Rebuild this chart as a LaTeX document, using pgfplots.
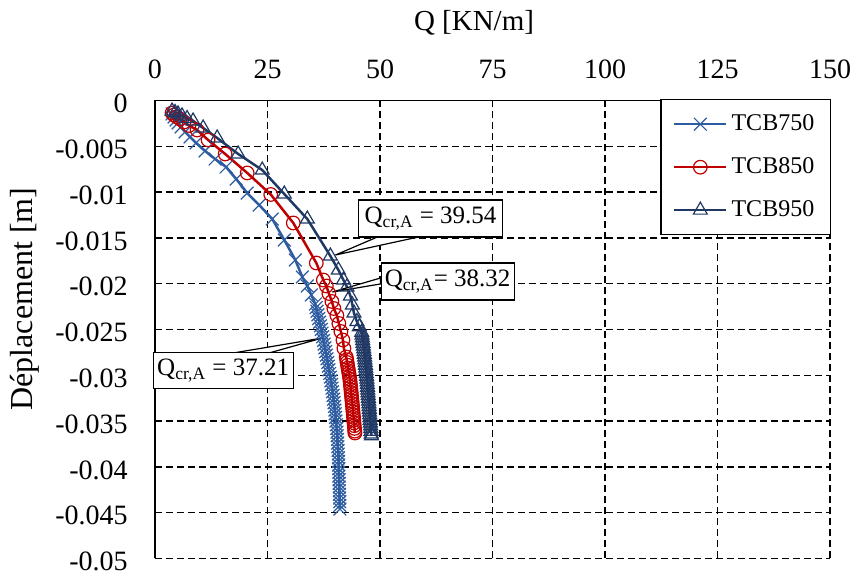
\documentclass[border=0pt]{standalone}
\usepackage{fontspec}
\setmainfont{Liberation Serif}
\usepackage{pgfplots}
\pgfplotsset{compat=1.18}
\definecolor{c750}{RGB}{46,92,160}
\definecolor{c850}{RGB}{192,0,0}
\definecolor{c950}{RGB}{31,56,100}
\begin{document}
\begin{tikzpicture}
\begin{axis}[
  scale only axis, width=337.5pt, height=229pt,
  xmin=0, xmax=150, ymin=-0.05, ymax=0,
  clip=false,
  scaled x ticks=false, scaled y ticks=false,
  axis x line*=top, axis y line*=left,
  axis line style={line width=0.75pt, black},
  xtick={0,25,50,75,100,125,150},
  xticklabels={0,25,50,75,100,125,150},
  ytick={0,-0.005,-0.01,-0.015,-0.02,-0.025,-0.03,-0.035,-0.04,-0.045,-0.05},
  yticklabels={0,-0.005,-0.01,-0.015,-0.02,-0.025,-0.03,-0.035,-0.04,-0.045,-0.05},
  tick align=inside, major tick length=2.5pt, tick style={black, line width=0.6pt},
  grid=major, grid style={black, line width=0.7pt, dash pattern=on 3.5pt off 2pt},
  xticklabel style={font=\fontsize{14}{16}\selectfont, inner sep=0pt, anchor=south, yshift=10.5pt},
  yticklabel style={font=\fontsize{14}{16}\selectfont, inner sep=0pt, anchor=east, xshift=-13.5pt, yshift=-1.5pt},
  xlabel={Q [KN/m]},
  xlabel style={font=\fontsize{14.5}{17}\selectfont, at={(axis description cs:0.4726,1)}, anchor=center, yshift=38.75pt},
  ylabel={Déplacement [m]},
  ylabel style={font=\fontsize{16}{18}\selectfont, at={(axis description cs:-0.1926,0.5666)}, anchor=center},
  legend style={at={(axis description cs:1,1)}, anchor=north east, xshift=0.5pt, yshift=0.75pt,
    draw=black, line width=0.75pt, fill=white, font=\fontsize{12}{14}\selectfont,
    inner xsep=6pt, inner ysep=5.5pt, row sep=8pt},
  legend cell align=left,
  legend image code/.code={\draw[mark repeat=2, mark phase=2] plot coordinates {(0pt,0pt) (13pt,0pt) (26pt,0pt)};},
]
\addplot[color=c750, line width=1.25pt, mark=x, mark size=4.5pt, mark options={solid, line width=0.6pt}] coordinates {
(3.79,-0.00147) (4.23,-0.00180) (4.68,-0.00213) (5.12,-0.00246) (5.79,-0.00289) (6.68,-0.00344) (7.79,-0.00398) (9.13,-0.00464) (11.14,-0.00551) (13.36,-0.00639) (15.81,-0.00726) (18.04,-0.00857) (20.49,-0.01010) (23.16,-0.01141) (26.06,-0.01294) (28.73,-0.01523) (31.18,-0.01741) (32.74,-0.01927) (33.85,-0.02025) (34.74,-0.02123) (35.63,-0.02222)
(35.81,-0.0226) (36.00,-0.0230) (36.19,-0.0234) (36.38,-0.0238) (36.57,-0.0242) (36.76,-0.0246) (36.95,-0.0250) (37.11,-0.0254) (37.28,-0.0258) (37.44,-0.0262) (37.60,-0.0266) (37.76,-0.0270) (37.93,-0.0274) (38.09,-0.0278) (38.23,-0.0282) (38.38,-0.0286) (38.53,-0.0290) (38.67,-0.0294) (38.82,-0.0298) (38.97,-0.0302) (39.11,-0.0306) (39.22,-0.0310) (39.34,-0.0314) (39.45,-0.0318) (39.56,-0.0322) (39.68,-0.0326) (39.79,-0.0330) (39.89,-0.0334) (39.98,-0.0338) (40.06,-0.0342) (40.14,-0.0346) (40.22,-0.0350) (40.30,-0.0354) (40.39,-0.0358) (40.45,-0.0362) (40.50,-0.0366) (40.55,-0.0370) (40.59,-0.0374) (40.64,-0.0378) (40.69,-0.0382) (40.74,-0.0386) (40.77,-0.0390) (40.79,-0.0394) (40.82,-0.0398) (40.84,-0.0402) (40.86,-0.0406) (40.89,-0.0410) (40.91,-0.0414) (40.93,-0.0418) (40.95,-0.0422) (40.98,-0.0426) (41.00,-0.0430) (41.02,-0.0434) (41.05,-0.0438) (41.07,-0.0442) (41.09,-0.0446)
};
\addlegendentry{TCB750}
\addplot[color=c850, line width=1.25pt, mark=o, mark size=3.4pt, mark options={solid, line width=0.6pt}] coordinates {
(3.79,-0.00136) (4.23,-0.00158) (4.83,-0.00177) (5.57,-0.00202) (6.46,-0.00235) (7.57,-0.00273) (9.35,-0.00322) (11.80,-0.00431) (15.59,-0.00584) (20.49,-0.00791) (25.72,-0.01026) (30.73,-0.01337) (35.85,-0.01774) (37.41,-0.01960) (38.08,-0.02025) (38.64,-0.02107) (39.31,-0.02194) (39.75,-0.02271) (40.42,-0.02347) (40.86,-0.02434) (41.31,-0.02522) (41.76,-0.02615) (41.98,-0.02707)
(42.49,-0.0280) (42.59,-0.0283) (42.69,-0.0286) (42.79,-0.0289) (42.89,-0.0292) (42.99,-0.0295) (43.09,-0.0298) (43.19,-0.0301) (43.29,-0.0304) (43.36,-0.0307) (43.42,-0.0310) (43.48,-0.0313) (43.54,-0.0316) (43.60,-0.0319) (43.66,-0.0322) (43.72,-0.0325) (43.78,-0.0328) (43.84,-0.0331) (43.90,-0.0334) (43.95,-0.0337) (44.01,-0.0340) (44.06,-0.0343) (44.12,-0.0346) (44.17,-0.0349) (44.23,-0.0352) (44.28,-0.0355) (44.34,-0.0358) (44.39,-0.0361) (44.43,-0.0363)
};
\addlegendentry{TCB850}
\addplot[color=c950, line width=1.25pt, mark=triangle, mark size=4pt, mark options={solid, line width=0.6pt}] coordinates {
(3.79,-0.00115) (4.45,-0.00131) (5.12,-0.00147) (6.01,-0.00169) (7.13,-0.00197) (8.46,-0.00224) (10.69,-0.00300) (13.81,-0.00409) (18.48,-0.00584) (23.83,-0.00759) (28.73,-0.01021) (33.85,-0.01294) (38.97,-0.01698) (40.75,-0.01850) (41.87,-0.01960) (42.65,-0.02036) (43.43,-0.02134) (43.87,-0.02232) (44.21,-0.02320) (44.87,-0.02413) (45.40,-0.02470)
(45.94,-0.0253) (46.01,-0.0256) (46.09,-0.0259) (46.16,-0.0262) (46.23,-0.0265) (46.30,-0.0268) (46.38,-0.0271) (46.45,-0.0274) (46.52,-0.0277) (46.59,-0.0280) (46.65,-0.0283) (46.71,-0.0286) (46.77,-0.0289) (46.83,-0.0292) (46.89,-0.0295) (46.95,-0.0298) (47.02,-0.0301) (47.08,-0.0304) (47.13,-0.0307) (47.18,-0.0310) (47.23,-0.0313) (47.28,-0.0316) (47.33,-0.0319) (47.38,-0.0322) (47.43,-0.0325) (47.48,-0.0328) (47.53,-0.0331) (47.58,-0.0334) (47.63,-0.0337) (47.67,-0.0340) (47.72,-0.0343) (47.77,-0.0346) (47.82,-0.0349) (47.87,-0.0352) (47.92,-0.0355) (47.96,-0.0358) (48.01,-0.0361) (48.06,-0.0364) (48.10,-0.0366)
};
\addlegendentry{TCB950}
% callouts
\draw[fill=white, line width=0.6pt] (axis cs:49.44,-0.0149) -- (axis cs:40.09,-0.01687) -- (axis cs:58.57,-0.0149) -- cycle;
\node[draw, fill=white, line width=0.6pt, minimum width=72pt, minimum height=18.5pt, inner sep=0pt, font=\fontsize{12.5}{14}\selectfont] at (axis cs:61.24,-0.01288) {Q\textsubscript{cr,A} = 39.54};
\draw[fill=white, line width=0.6pt] (axis cs:50.11,-0.01938) -- (axis cs:39.42,-0.02091) -- (axis cs:50.11,-0.02003) -- cycle;
\node[draw, fill=white, line width=0.6pt, minimum width=66.5pt, minimum height=18.5pt, inner sep=0pt, font=\fontsize{12.5}{14}\selectfont] at (axis cs:65.03,-0.01976) {Q\textsubscript{cr,A}= 38.32};
\draw[fill=white, line width=0.6pt] (axis cs:17.82,-0.02753) -- (axis cs:37.19,-0.02593) -- (axis cs:25.61,-0.02753) -- cycle;
\node[draw, fill=white, line width=0.6pt, minimum width=70pt, minimum height=18pt, inner sep=0pt, font=\fontsize{12.5}{14}\selectfont] at (axis cs:15.14,-0.02948) {Q\textsubscript{cr,A} = 37.21};
\end{axis}
\path ([xshift=-77.5pt,yshift=-8.25pt]current axis.south west) rectangle ([xshift=13pt,yshift=50.25pt]current axis.north east);
\end{tikzpicture}
\end{document}
